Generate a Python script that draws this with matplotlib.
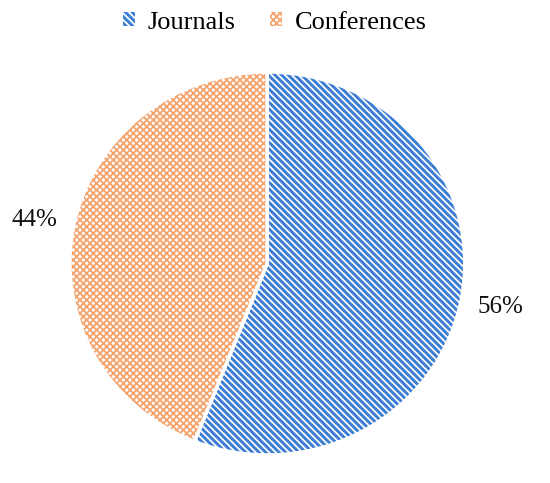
import matplotlib
matplotlib.use("Agg")
import matplotlib.pyplot as plt
from matplotlib.patches import Patch

labels = ['Journals', 'Conferences']
shares = [56, 44]
colors = ['#3b7dd3', '#f5a36c']
hatches = ['\\' * 5, 'x' * 5]
hatch_widths = [2.1, 1.3]

plt.rcParams['font.family'] = ['Liberation Serif', 'DejaVu Serif']
plt.rcParams['hatch.linewidth'] = 2.1
plt.rcParams['path.simplify'] = False

fig = plt.figure(figsize=(5.5, 4.83), dpi=100)
ax = fig.add_axes([0.127, 0.058, 0.718, 0.793])

# hatched wedges (hatch takes the edge colour in mpl 3.10)
wedges, texts, autotexts = ax.pie(
    shares, startangle=90, counterclock=False, colors=['white'] * 2,
    autopct='%d%%', pctdistance=1.2,
    wedgeprops=dict(linewidth=0.5),
    textprops=dict(fontsize=18, color='#111111'))
for w, c, h, hw in zip(wedges, colors, hatches, hatch_widths):
    w.set_edgecolor(c)
    w.set_hatch(h)
    if hasattr(w, 'set_hatch_linewidth'):
        w.set_hatch_linewidth(hw)

# white separators on top
ax.pie(shares, startangle=90, counterclock=False,
       wedgeprops=dict(fill=False, edgecolor='white', linewidth=2.5))
ax.set_aspect('auto')
ax.set_xlim(-1.0, 1.0)
ax.set_ylim(-1.0, 1.0)

handles = []
for c, h in zip(colors, hatches):
    p = Patch(facecolor='white', edgecolor=c, hatch=h, linewidth=0)
    handles.append(p)
leg = fig.legend(handles, labels, loc='upper center', ncol=2, frameon=False,
                 fontsize=19, bbox_to_anchor=(0.5, 1.025), handlelength=0.45,
                 handleheight=0.45, handletextpad=0.5, columnspacing=1.3)
for p, hw in zip(leg.get_patches(), hatch_widths):
    if hasattr(p, 'set_hatch_linewidth'):
        p.set_hatch_linewidth(hw)

fig.savefig('out.png', dpi=100)
